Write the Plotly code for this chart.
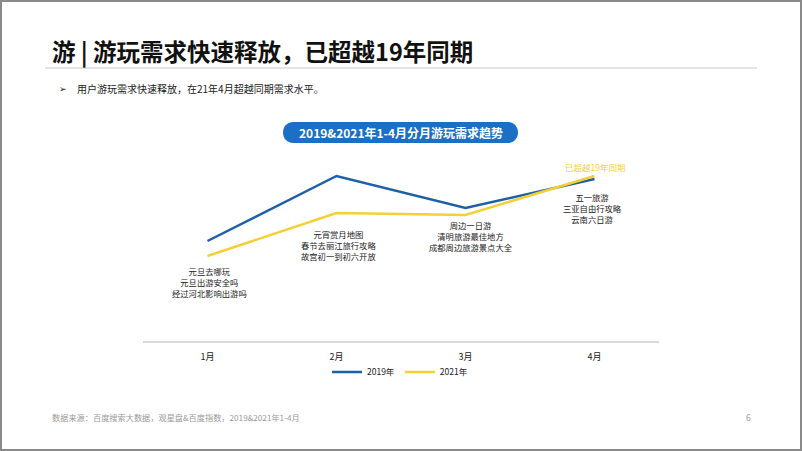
import plotly.graph_objects as go

months = ["1月", "2月", "3月", "4月"]
series_names = ["2019年", "2021年"]
values_2019 = [50, 82.5, 66.5, 81]
values_2021 = [42.5, 64, 63, 82.5]
point_notes = [
    ["元旦去哪玩", "元旦出游安全吗", "经过河北影响出游吗"],
    ["元宵赏月地图", "春节去丽江旅行攻略", "故宫初一到初六开放"],
    ["周边一日游", "清明旅游最佳地方", "成都周边旅游景点大全"],
    ["五一旅游", "三亚自由行攻略", "云南六日游"],
]
highlight_text = "已超越19年同期"

W, H = 802, 451
L, R, T, B = 143, 143, 141, 110
PW, PH = W - L - R, H - T - B
FONT = "Noto Sans CJK SC, Microsoft YaHei, sans-serif"
BLUE = "#1d5fa9"
YELLOW = "#f5cf33"


def px(x):
    return (x - L) / PW


def py(y):
    return (H - B - y) / PH


fig = go.Figure()
fig.add_trace(go.Scatter(x=months, y=values_2019, name=series_names[0], mode="lines",
                         line=dict(color=BLUE, width=2.5)))
fig.add_trace(go.Scatter(x=months, y=values_2021, name=series_names[1], mode="lines",
                         line=dict(color=YELLOW, width=2.5)))

annotations = []
annotations.append(dict(text="<b>游 | 游玩需求快速释放，已超越19年同期</b>", xref="paper", yref="paper",
                        x=px(50), y=py(51), xanchor="left", yanchor="middle", showarrow=False,
                        font=dict(family=FONT, size=23.5, color="#111111")))
annotations.append(dict(text="➢", xref="paper", yref="paper", x=px(57), y=py(88),
                        xanchor="left", yanchor="middle", showarrow=False,
                        font=dict(family=FONT, size=9, color="#222222")))
annotations.append(dict(text="用户游玩需求快速释放，在21年4月超越同期需求水平。", xref="paper", yref="paper",
                        x=px(75), y=py(88), xanchor="left", yanchor="middle", showarrow=False,
                        font=dict(family=FONT, size=10, color="#222222")))
annotations.append(dict(text="<b>2019&2021年1-4月分月游玩需求趋势</b>", xref="paper", yref="paper",
                        x=px(400.5), y=py(132.5), xanchor="center", yanchor="middle", showarrow=False,
                        font=dict(family=FONT, size=12, color="white")))
note_mid = [282.3, 244.7, 236, 207.7]
note_shift = [2, 2, 5, -2]
for i, lines in enumerate(point_notes):
    annotations.append(dict(text="<br>".join(lines), x=months[i], xref="x", yref="paper",
                            y=py(note_mid[i]), xshift=note_shift[i], align="center",
                            xanchor="center", yanchor="middle", showarrow=False, borderpad=0,
                            font=dict(family=FONT, size=8.3, color="#222222")))
annotations.append(dict(text=highlight_text, x=months[3], xref="x", yref="paper", y=py(167),
                        xanchor="center", yanchor="middle", showarrow=False,
                        font=dict(family=FONT, size=8.5, color=YELLOW)))
annotations.append(dict(text="数据来源：百度搜索大数据，观星盘&百度指数，2019&2021年1-4月", xref="paper", yref="paper",
                        x=px(50), y=py(417), xanchor="left", yanchor="middle", showarrow=False,
                        font=dict(family=FONT, size=8.2, color="#9a9a9a")))
annotations.append(dict(text="6", xref="paper", yref="paper", x=px(748), y=py(417),
                        xanchor="center", yanchor="middle", showarrow=False,
                        font=dict(family=FONT, size=8.5, color="#9a9a9a")))

x0, x1, y0, y1 = 283, 518, 122, 143
r = (y1 - y0) / 2
k = r * 4 / 3
pts = [
    f"M {px(x0 + r)},{py(y0)}",
    f"L {px(x1 - r)},{py(y0)}",
    f"C {px(x1 - r + k)},{py(y0)} {px(x1 - r + k)},{py(y1)} {px(x1 - r)},{py(y1)}",
    f"L {px(x0 + r)},{py(y1)}",
    f"C {px(x0 + r - k)},{py(y1)} {px(x0 + r - k)},{py(y0)} {px(x0 + r)},{py(y0)}",
    "Z",
]
shapes = [
    dict(type="path", xref="paper", yref="paper", path=" ".join(pts),
         fillcolor="#1b6fc4", line=dict(width=0), layer="below"),
    dict(type="line", xref="paper", yref="paper", x0=px(45), x1=px(757), y0=py(68), y1=py(68),
         line=dict(color="#dcdcdc", width=1.5)),
    dict(type="rect", xref="paper", yref="paper", x0=px(1), x1=px(801), y0=py(1), y1=py(450),
         line=dict(color="#8a8a8a", width=2), fillcolor="rgba(0,0,0,0)"),
]

fig.update_layout(
    width=W, height=H,
    margin=dict(l=L, r=R, t=T, b=B),
    paper_bgcolor="white", plot_bgcolor="white",
    font=dict(family=FONT, size=9.5, color="#222222"),
    showlegend=True,
    legend=dict(orientation="h", x=px(400), y=py(372), xanchor="center", yanchor="middle",
                itemwidth=30, tracegroupgap=0,
                font=dict(family=FONT, size=8.5, color="#222222"), bgcolor="rgba(0,0,0,0)"),
    xaxis=dict(showline=True, linecolor="#dadada", linewidth=1.5, showgrid=False, zeroline=False,
               ticks="", range=[-0.5, 3.5], ticklabelstandoff=6,
               tickfont=dict(family=FONT, size=9, color="#222222")),
    yaxis=dict(visible=False, range=[0, 100], showgrid=False, zeroline=False),
    annotations=annotations,
    shapes=shapes,
)

fig.write_html("out.html", config={"displayModeBar": False},
               post_script="document.body.style.margin='0';document.body.style.overflow='hidden';")
